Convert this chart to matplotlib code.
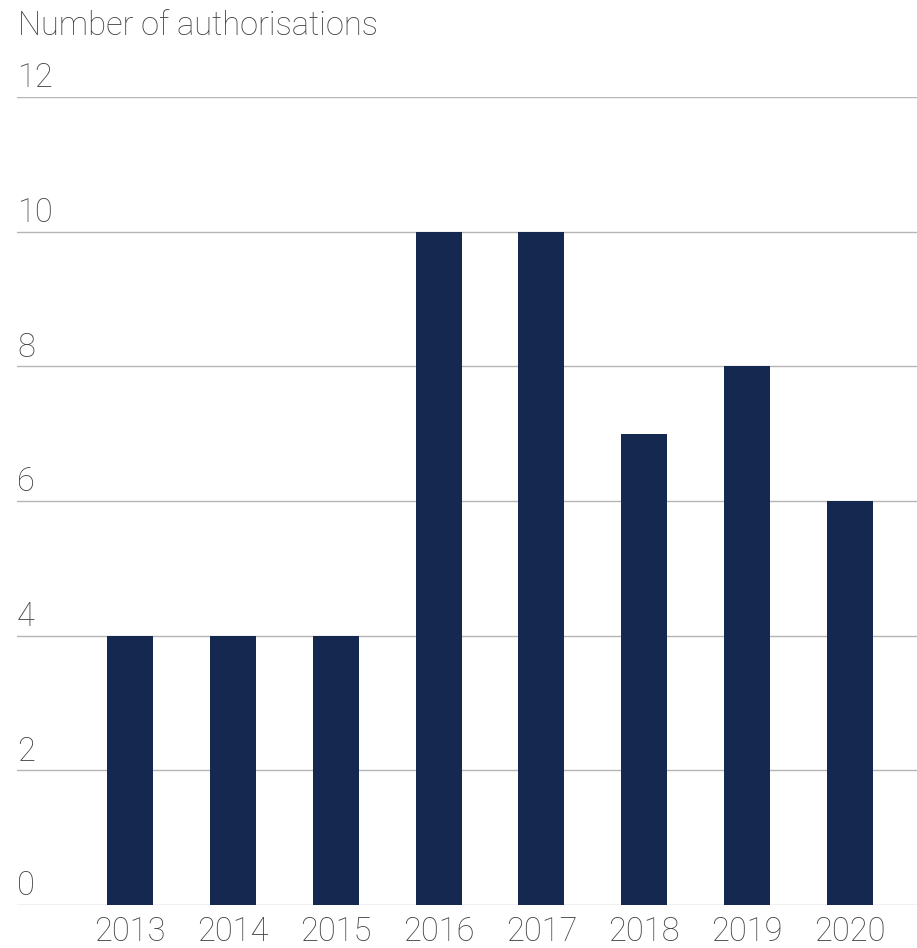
import matplotlib.pyplot as plt
import numpy as np

years = ["2013", "2014", "2015", "2016", "2017", "2018", "2019", "2020"]
authorisations = [4, 4, 4, 10, 10, 7, 8, 6]
y_ticks = [0, 2, 4, 6, 8, 10, 12]

bar_color = "#15284f"
text_color = "#444444"
grid_color = "#b5b5b5"

plt.rcParams["font.family"] = ["Roboto", "DejaVu Sans"]

fig = plt.figure(figsize=(9.17, 9.48), dpi=100)
ax = fig.add_axes([17 / 917, 1 - 905 / 948, 1 - 17 / 917, (905 - 97) / 948])

x = np.arange(len(years))
ax.bar(x, authorisations, width=0.447, color=bar_color, zorder=3)

ax.set_xlim(-1.0986, 7.651)
ax.set_ylim(0, 12)

# horizontal grid lines
for t in y_ticks:
    ax.axhline(t, color=grid_color, lw=1, zorder=1)
    ax.annotate(str(t), xy=(0, t), xycoords=("axes fraction", "data"),
                xytext=(0, 2), textcoords="offset points",
                ha="left", va="bottom", fontsize=23.5, fontweight="light",
                color=text_color)

ax.set_yticks([])
ax.set_xticks(x)
ax.set_xticklabels(years, fontsize=23.5, fontweight="light", color=text_color)
ax.tick_params(axis="x", length=0, pad=8)
for s in ax.spines.values():
    s.set_visible(False)

fig.text(18 / 917, 1 - 26 / 948, "Number of authorisations", ha="left", va="center",
         fontsize=23.5, fontweight="light", color=text_color)

fig.savefig("out.png", dpi=100, facecolor="white")
